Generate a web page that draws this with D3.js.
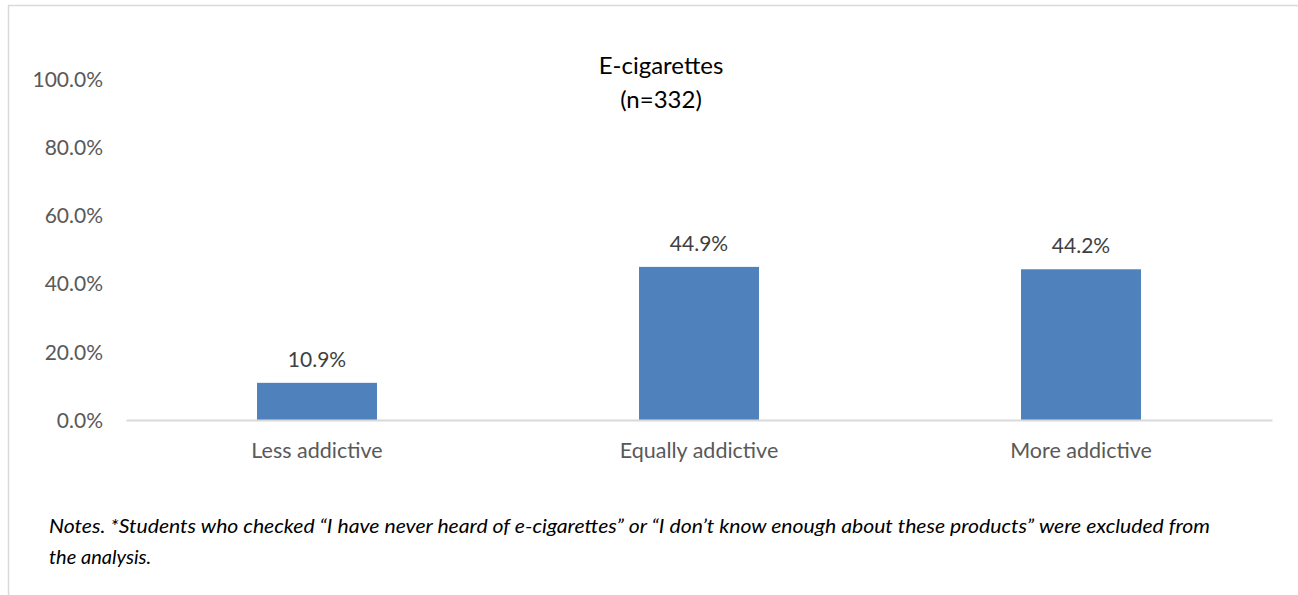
<!DOCTYPE html>
<html><head><meta charset="utf-8">
<script src="https://cdn.jsdelivr.net/npm/d3@7/dist/d3.min.js"></script>
<style>body{margin:0;background:#fff}svg{display:block}</style>
</head><body>
<svg id="c" width="1298" height="595"></svg>
<script>
const categories = ["Less addictive", "Equally addictive", "More addictive"];
const values = [10.9, 44.9, 44.2];
const tickValues = [0, 20, 40, 60, 80, 100];
const titleLines = ["E-cigarettes", "(n=332)"];
const noteLines = ["Notes. *Students who checked \u201cI have never heard of e-cigarettes\u201d or \u201cI don\u2019t know enough about these products\u201d were excluded from", "the analysis."];

const svg = d3.select("#c");
const font = "Lato, 'Open Sans', sans-serif";
const m = {left: 126, right: 1272, top: 79, bottom: 420};

// frame
svg.append("line").attr("x1", 8).attr("x2", 1298).attr("y1", 5.5).attr("y2", 5.5).attr("stroke", "#d9d9d9").attr("stroke-width", 1.5);
svg.append("line").attr("x1", 8.5).attr("x2", 8.5).attr("y1", 5).attr("y2", 595).attr("stroke", "#d9d9d9").attr("stroke-width", 1.5);

const x = d3.scaleBand().domain(categories).range([m.left, m.right]).paddingInner(0.686).paddingOuter(0.343);
const y = d3.scaleLinear().domain([0, 100]).range([m.bottom, m.top]);

// y axis
const ya = svg.append("g").attr("transform", `translate(${m.left - 23},0)`)
  .call(d3.axisLeft(y).tickValues(tickValues).tickSize(0).tickPadding(0).tickFormat(d => d.toFixed(1) + "%"));
ya.select(".domain").remove();
ya.selectAll("text").attr("font-family", font).attr("font-size", 21).attr("fill", "#595959").attr("dy", "0.35em");

// bars
svg.selectAll("rect.bar").data(values).join("rect").attr("class", "bar")
  .attr("x", (d, i) => x(categories[i])).attr("width", x.bandwidth())
  .attr("y", d => y(d)).attr("height", d => y(0) - y(d)).attr("fill", "#4f81bd");

// baseline
const xa = svg.append("g").attr("transform", `translate(0,${m.bottom})`)
  .call(d3.axisBottom(x).tickSize(0).tickPadding(23));
xa.select(".domain").attr("stroke", "#d9d9d9").attr("stroke-width", 2);
xa.selectAll("text").attr("font-family", font).attr("font-size", 21.5).attr("fill", "#595959");

// value labels
svg.selectAll("text.val").data(values).join("text").attr("class", "val")
  .attr("x", (d, i) => x(categories[i]) + x.bandwidth() / 2).attr("y", d => y(d) - 16)
  .attr("text-anchor", "middle").attr("font-family", font).attr("font-size", 21).attr("fill", "#404040")
  .text(d => d.toFixed(1) + "%");

// title
svg.selectAll("text.title").data(titleLines).join("text").attr("class", "title")
  .attr("x", 661).attr("y", (d, i) => 74 + i * 34).attr("text-anchor", "middle")
  .attr("font-family", font).attr("font-size", 24).attr("fill", "#000").text(d => d);

// notes
svg.selectAll("text.note").data(noteLines).join("text").attr("class", "note")
  .attr("x", 49).attr("y", (d, i) => 533 + i * 31)
  .attr("font-family", font).attr("font-style", "italic").attr("font-size", 20).attr("fill", "#000")
  .each(function(d, i) { if (i === 0) d3.select(this).attr("textLength", 1161).attr("lengthAdjust", "spacingAndGlyphs"); })
  .text(d => d);
</script>
</body></html>
